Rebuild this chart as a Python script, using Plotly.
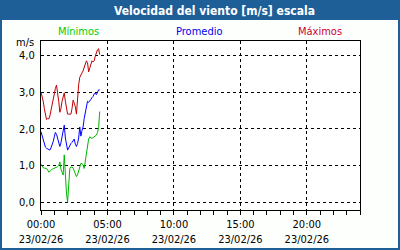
import plotly.graph_objects as go
import pandas as pd

# ---- data (5-minute samples starting 23/02/26 00:00) ----
start = "2026-02-23 00:00"
step_minutes = 5

maximos = [3.00, 2.90, 2.75, 2.55, 2.35, 2.25, 2.28, 2.27, 2.35, 2.50,
           2.65, 2.85, 3.00, 3.10, 3.19, 3.00, 2.75, 2.45, 2.55, 2.75,
           2.85, 2.98, 2.75, 2.50, 2.40, 2.40, 2.40, 2.40, 2.55, 2.78,
           2.70, 2.60, 2.40, 2.97, 3.20, 3.40, 3.48, 3.52, 3.58, 3.68,
           3.75, 3.85, 3.80, 3.55, 3.65, 3.80, 3.85, 3.82, 3.85, 3.98,
           4.08, 4.15, 4.18, 4.02]
promedio = [1.92, 1.82, 1.68, 1.56, 1.50, 1.47, 1.45, 1.43, 1.42, 1.48,
            1.55, 1.65, 1.78, 1.90, 1.85, 1.72, 1.60, 1.52, 1.62, 1.76,
            1.95, 2.10, 1.75, 1.55, 1.42, 1.48, 1.55, 1.60, 1.63, 1.68,
            1.72, 1.58, 1.52, 1.60, 1.75, 2.05, 1.80, 1.95, 2.05, 2.28,
            2.45, 2.65, 2.75, 2.72, 2.78, 2.80, 2.85, 2.88, 2.95, 2.97,
            2.93, 3.02, 3.06, 3.06]
minimos = [1.04, 0.98, 0.94, 0.93, 0.92, 0.92, 0.88, 0.82, 0.84, 0.88,
           0.90, 0.91, 0.92, 0.93, 0.95, 0.97, 1.00, 1.10, 0.90, 0.80,
           0.74, 1.29, 0.65, 0.25, 0.00, 0.60, 0.92, 0.96, 0.96, 0.93,
           0.86, 0.80, 0.70, 0.75, 0.85, 0.95, 1.06, 1.05, 1.02, 0.92,
           1.15, 1.35, 1.62, 1.72, 1.78, 1.75, 1.74, 1.76, 1.78, 1.80,
           1.83, 1.90, 2.03, 2.47]

series_names = ["Mínimos", "Promedio", "Máximos"]
title_text = "Velocidad del viento [m/s] escala"
unit_label = "m/s"

y_tickvals = [0, 1, 2, 3, 4]
y_ticktext = ["0,0", "1,0", "2,0", "3,0", "4,0"]
x_tick_hours = [0, 5, 10, 15, 20]
x_ticktext = ["00:00<br>23/02/26", "05:00<br>23/02/26", "10:00<br>23/02/26",
              "15:00<br>23/02/26", "20:00<br>23/02/26"]

# ---- figure ----
W, H = 400, 250
ML, MR, MT, MB = 41, 40, 41, 40
PW, PH = W - ML - MR, H - MT - MB

def px(x):
    return (x - ML) / PW

def py(y):
    return (H - MB - y) / PH

times = pd.date_range(start, periods=len(maximos), freq=f"{step_minutes}min")
t0 = pd.Timestamp(start)
t1 = t0 + pd.Timedelta(hours=24)

FONT = "DejaVu Sans Condensed, DejaVu Sans, sans-serif"
c_min, c_avg, c_max = "#00b400", "#0000ff", "#c00000"
DASH = "3px,3px"

fig = go.Figure()
for vals, col, name in [(maximos, c_max, series_names[2]),
                        (promedio, c_avg, series_names[1]),
                        (minimos, c_min, series_names[0])]:
    fig.add_trace(go.Scatter(x=times, y=vals, mode="lines", name=name,
                             line=dict(color=col, width=1)))

fig.update_layout(
    width=W, height=H,
    margin=dict(l=ML, r=MR, t=MT, b=MB, autoexpand=False),
    paper_bgcolor="#fdfffd", plot_bgcolor="#ffffff",
    showlegend=False,
    font=dict(family=FONT, size=11, color="#000000"),
)

fig.update_xaxes(
    range=[t0, t1], automargin=False,
    tickvals=[t0 + pd.Timedelta(hours=h) for h in x_tick_hours],
    ticktext=x_ticktext,
    ticks="outside", ticklen=4, tickcolor="#000000",
    minor=dict(dtick=3600000, ticks="outside", ticklen=4, tickcolor="#000000",
               showgrid=False),
    showgrid=True, gridcolor="#000000", griddash=DASH, gridwidth=1,
    showline=True, linecolor="#000000", linewidth=1, mirror=True,
    zeroline=False, ticklabelstandoff=0,
    tickfont=dict(family=FONT, size=11, color="#000000"),
)
fig.update_yaxes(
    range=[-0.21, 4.39], automargin=False,
    tickvals=y_tickvals, ticktext=y_ticktext,
    ticks="outside", ticklen=3, tickcolor="rgba(0,0,0,0)",
    showgrid=True, gridcolor="#000000", griddash=DASH, gridwidth=1,
    showline=True, linecolor="#000000", linewidth=1, mirror=True,
    zeroline=False,
    tickfont=dict(family=FONT, size=11, color="#000000"),
)

# title bar
fig.add_shape(type="rect", xref="paper", yref="paper",
              x0=px(0), x1=px(W), y0=py(20), y1=py(0),
              fillcolor="#1f5f98", line=dict(width=0), layer="below")
# outer border
fig.add_shape(type="rect", xref="paper", yref="paper",
              x0=px(0), x1=px(W), y0=py(H), y1=py(0),
              fillcolor="rgba(0,0,0,0)", line=dict(color="#1f5f98", width=4))

fig.add_annotation(xref="paper", yref="paper", x=px(214.5), y=py(10.5),
                   text="<b>" + title_text + "</b>", showarrow=False,
                   xanchor="center", yanchor="middle",
                   font=dict(family=FONT, size=12, color="#ffffff"))

for name, col, cx in [(series_names[0], "#00cc00", 78),
                      (series_names[1], "#0000ee", 199),
                      (series_names[2], "#cc0033", 320)]:
    fig.add_annotation(xref="paper", yref="paper", x=px(cx), y=py(32),
                       text=name, showarrow=False, xanchor="center",
                       yanchor="middle",
                       font=dict(family=FONT, size=11, color=col))

fig.add_annotation(xref="paper", yref="paper", x=px(36), y=py(46),
                   text=unit_label, showarrow=False, xanchor="right",
                   yanchor="bottom", yshift=-5,
                   font=dict(family=FONT, size=11, color="#000000"))

fig.write_html("out.html")
